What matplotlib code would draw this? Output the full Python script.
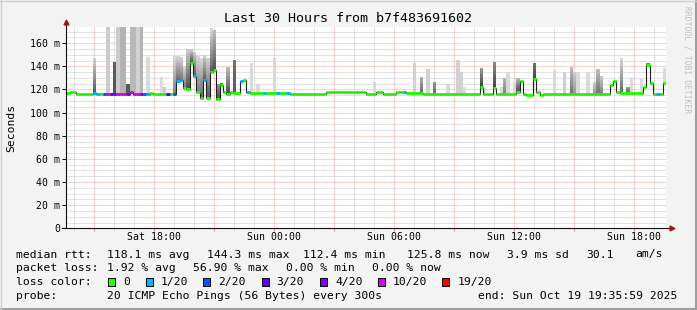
import numpy as np
import pandas as pd
import matplotlib
matplotlib.use('Agg')
import matplotlib.pyplot as plt
import matplotlib.dates as mdates
from matplotlib.ticker import MultipleLocator, FuncFormatter
from matplotlib.patches import Rectangle
from matplotlib.lines import Line2D

plt.rcParams['font.family'] = ['DejaVu Sans Mono']

W, H = 697, 310

# 10 minute steps, Sat 13:36 -> Sun 19:36
start = '2025-10-18 13:35:59'
n_steps = 180

# median rtt per step (ms)
median = [
    117.0, 117.5, 118.0, 116.5, 115.7, 115.7, 115.7, 116.0, 117.0, 115.7,
    115.7, 115.7, 115.7, 115.7, 115.7, 115.7, 115.7, 115.7, 116.5, 117.4,
    116.5, 115.7, 115.7, 116.0, 116.5, 117.0, 115.7, 115.7, 115.7, 115.7,
    115.7, 115.7, 116.0, 127.5, 128.5, 121.5, 120.0, 143.0, 132.0, 118.0,
    113.0, 128.0, 112.5, 135.0, 137.0, 111.5, 123.5, 118.0, 116.5, 118.0,
    117.0, 117.0, 127.2, 128.6, 118.0, 117.0, 117.0, 117.0, 117.0, 117.0,
    117.0, 117.0, 117.0, 117.0, 117.0, 117.0, 117.0, 115.7, 115.7, 115.7,
    115.7, 115.7, 115.7, 115.7, 116.0, 116.0, 116.0, 116.0, 117.4, 117.4,
    117.4, 117.4, 117.4, 117.4, 117.4, 117.4, 117.4, 117.4, 117.4, 117.4,
    115.7, 115.7, 115.7, 117.4, 117.4, 116.3, 116.3, 116.3, 116.3, 117.4,
    117.4, 117.4, 117.1, 117.1, 117.1, 117.1, 117.1, 116.5, 116.5, 116.5,
    116.5, 116.5, 116.5, 115.7, 115.7, 115.7, 115.7, 116.3, 116.3, 116.3,
    116.3, 116.3, 116.3, 116.3, 122.5, 116.3, 116.3, 116.3, 121.0, 116.5,
    116.5, 116.5, 116.5, 115.7, 115.7, 118.0, 127.2, 116.5, 115.0, 115.1,
    128.9, 118.0, 115.1, 116.5, 116.5, 116.5, 116.5, 116.5, 116.5, 116.5,
    116.5, 116.5, 116.5, 116.5, 116.5, 116.5, 116.5, 116.5, 116.5, 116.5,
    116.5, 116.5, 116.5, 123.5, 127.2, 117.5, 117.1, 117.1, 117.1, 117.1,
    117.1, 117.1, 117.1, 122.3, 141.0, 125.2, 116.5, 116.5, 116.5, 125.2,
]

# lost pings out of 20 per step
loss = [
    0, 0, 0, 0, 0, 0, 0, 0, 1, 1, 0, 2, 10, 3, 4, 10, 10, 10, 4, 10,
    10, 10, 4, 2, 1, 0, 0, 0, 0, 0, 3, 0, 2, 1, 1, 0, 0, 0, 1, 0,
    0, 1, 0, 0, 0, 0, 0, 0, 0, 0, 0, 0, 1, 0, 1, 0, 0, 0, 0, 1,
    0, 0, 0, 1, 0, 0, 1, 0, 0, 0, 0, 0, 0, 0, 0, 0, 0, 0, 0, 0,
    0, 0, 0, 0, 0, 0, 0, 0, 0, 0, 0, 0, 0, 0, 0, 0, 0, 0, 0, 0,
    0, 1, 0, 0, 0, 0, 0, 0, 0, 0, 0, 0, 0, 0, 0, 0, 0, 0, 0, 0,
    0, 0, 0, 0, 0, 0, 0, 0, 0, 0, 0, 0, 0, 0, 0, 0, 0, 0, 0, 0,
    0, 0, 0, 0, 0, 0, 0, 0, 0, 0, 0, 0, 0, 0, 0, 0, 0, 0, 0, 0,
    0, 0, 0, 0, 0, 0, 0, 0, 0, 0, 0, 0, 0, 0, 0, 0, 0, 1, 0, 0,
]

# smoke columns: step, highest ping, gray at top, gray next to median
smoke_step = [8, 12, 14, 15, 16, 17, 18, 19, 20, 21, 22, 24, 28, 29,
              32, 33, 34, 35, 36, 37, 38, 39, 40, 41, 42, 43, 44, 45, 46, 48, 50,
              55, 57, 62, 92, 104, 106, 108, 110, 114, 117, 118, 119, 124, 125,
              128, 130, 131, 132, 134, 135, 140, 146, 149, 151, 152, 153, 156,
              158, 159, 160, 166, 168, 169, 172, 174, 179]
smoke_top = [146.8, 180, 143.9, 180, 180, 180, 125.0, 180, 180, 180, 180, 148.0, 131.0, 122.3,
             148.8, 148.8, 148.0, 140.0, 154.6, 154.6, 152.0, 150.0, 147.0, 149.7, 146.8, 172.8,
             171.0, 125.0, 126.0, 139.6, 145.4,
             142.5, 125.0, 147.4, 126.6, 142.5, 131.0, 137.3, 126.6, 124.3, 145.4, 135.3, 122.3,
             138.7, 121.5, 143.9, 122.3, 129.5, 135.3, 126.6, 129.5, 142.5, 136.7, 135.3, 139.6,
             135.3, 135.3, 135.3, 126.6, 138.0, 132.0, 146.8, 122.3, 130.0, 129.5, 142.5, 138.7]
smoke_light = [0.82, 0.80, 0.38, 0.80, 0.70, 0.70, 0.35, 0.72, 0.72, 0.82, 0.70, 0.85, 0.86, 0.80,
               0.86, 0.85, 0.85, 0.85, 0.80, 0.80, 0.80, 0.85, 0.85, 0.82, 0.82, 0.85,
               0.75, 0.60, 0.50, 0.75, 0.45,
               0.85, 0.85, 0.85, 0.85, 0.82, 0.70, 0.82, 0.60, 0.85, 0.82, 0.82, 0.85,
               0.60, 0.85, 0.55, 0.85, 0.70, 0.85, 0.85, 0.70, 0.45, 0.85, 0.82, 0.75,
               0.80, 0.85, 0.85, 0.80, 0.75, 0.80, 0.85, 0.60, 0.85, 0.85, 0.50, 0.85]
smoke_dark = [0.35, 0.80, 0.32, 0.80, 0.70, 0.70, 0.35, 0.72, 0.72, 0.82, 0.70, 0.85, 0.86, 0.80,
              0.50, 0.40, 0.45, 0.50, 0.30, 0.30, 0.35, 0.50, 0.40, 0.35, 0.35, 0.35,
              0.30, 0.30, 0.30, 0.30, 0.35,
              0.85, 0.85, 0.85, 0.85, 0.82, 0.40, 0.82, 0.40, 0.85, 0.82, 0.82, 0.85,
              0.25, 0.85, 0.25, 0.85, 0.50, 0.85, 0.85, 0.30, 0.25, 0.85, 0.80, 0.45,
              0.60, 0.85, 0.85, 0.60, 0.45, 0.50, 0.40, 0.40, 0.85, 0.85, 0.30, 0.85]

loss_levels = [0, 1, 2, 3, 4, 10, 19]
loss_labels = ['0', '1/20', '2/20', '3/20', '4/20', '10/20', '19/20']
loss_colors = ['#26ff00', '#00b8ff', '#0059ff', '#5e00ff', '#7e00ff', '#dd00ff', '#ff0000']

edges = mdates.date2num(pd.date_range(start, periods=n_steps + 1, freq='10min'))
width = edges[1] - edges[0]
med = np.array(median)


def fx(x):
    return x / W


def fy(y):
    return 1 - y / H


fig = plt.figure(figsize=(W / 100, H / 100), dpi=100, facecolor='#f3f3f3')
ax = fig.add_axes([fx(66.3), fy(228.3), 600 / W, 201.3 / H])
ax.set_facecolor('white')

# smoke
n_seg = 12
for i, top, light, dark in zip(smoke_step, smoke_top, smoke_light, smoke_dark):
    lv = np.linspace(med[i], top, n_seg + 1)
    for k in range(n_seg):
        g = dark + (light - dark) * (k + 0.5) / n_seg
        ax.bar(edges[i], lv[k + 1] - lv[k], bottom=lv[k], width=width, align='edge',
               color=(g, g, g), linewidth=0, antialiased=False, zorder=2)

# median line, coloured by loss
ax.step(edges, np.append(med, med[-1]), where='post', color='#202020', lw=0.8, zorder=3)
idx = np.searchsorted(loss_levels, loss, side='right') - 1
cols = [loss_colors[j] for j in idx]
ax.hlines(med, edges[:-1], edges[1:], colors=cols, lw=2.2, zorder=4)

ax.set_xlim(edges[0], edges[-1])
ax.set_ylim(0, 174)

ax.yaxis.set_major_locator(MultipleLocator(20))
ax.yaxis.set_minor_locator(MultipleLocator(5))
ax.yaxis.set_major_formatter(FuncFormatter(lambda v, p: '0' if v == 0 else '%d m' % v))
ax.xaxis.set_major_locator(mdates.HourLocator(byhour=range(0, 24, 3)))
ax.xaxis.set_minor_locator(mdates.HourLocator())


def xfmt(v, p):
    d = mdates.num2date(v)
    return d.strftime('%a %H:%M') if d.hour % 6 == 0 else ''


ax.xaxis.set_major_formatter(FuncFormatter(xfmt))

ax.set_axisbelow(True)
ax.grid(which='major', color='#ff9e9e', lw=0.72, ls=(0, (1, 1)))
ax.grid(which='minor', color='#c6c6c6', lw=0.72, ls=(0, (1, 1)))

ax.tick_params(axis='y', which='major', length=3, width=0.7, color='black', pad=1.5, labelsize=7.1)
ax.tick_params(axis='y', which='minor', length=0)
ax.tick_params(axis='x', which='major', length=2, width=0.7, color='#e08080', pad=1, labelsize=7.1)
ax.tick_params(axis='x', which='minor', length=1.5, width=0.7, color='#c8c8c8')

for s in ax.spines.values():
    s.set_visible(False)

# axes with arrows
ax.add_line(Line2D([0, 0], [0, 1 + 4 / 201.3], transform=ax.transAxes, color='#101010',
                   lw=0.8, clip_on=False, zorder=5))
ax.add_line(Line2D([-4 / 600, 1 + 4 / 600], [0, 0], transform=ax.transAxes, color='#101010',
                   lw=0.8, clip_on=False, zorder=5))
ax.plot([0], [1 + 5 / 201.3], marker='^', ms=3.5, color='#a01818', transform=ax.transAxes,
        clip_on=False, zorder=6)
ax.plot([1 + 6 / 600], [0], marker='>', ms=3.5, color='#a01818', transform=ax.transAxes,
        clip_on=False, zorder=6)

# texts
fig.text(fx(348), fy(19), 'Last 30 Hours from b7f483691602', fontsize=9.6,
         ha='center', va='center')
fig.text(fx(11), fy(128), 'Seconds', fontsize=8.2, rotation=90, ha='center', va='center')
fig.text(fx(687.5), fy(60), 'RRDTOOL / TOBI OETIKER', fontsize=5.8, rotation=270,
         ha='center', va='center', color='#c0c0c0')

rows = [
    (254.5, [('median rtt:', 16), ('118.1 ms avg', 107.3), ('144.3 ms max', 207.3),
             ('112.4 ms min', 302.7), ('125.8 ms now', 407.3), ('3.9 ms sd', 506.7),
             ('30.1', 586), ('am/s', 635)]),
    (268.3, [('packet loss:', 16), ('1.92 % avg', 107.3), ('56.90 % max', 193.3),
             ('0.00 % min', 286), ('0.00 % now', 372.3)]),
    (282.2, [('loss color:', 16)]),
    (296.3, [('probe:', 16), ('20 ICMP Echo Pings (56 Bytes) every 300s', 107.3),
             ('end: Sun Oct 19 19:35:59 2025', 478.3)]),
]
for y, items in rows:
    for txt, x in items:
        fig.text(fx(x), fy(y), txt, fontsize=8.2, ha='left', va='center')

box_x = [108.3, 146, 203.3, 261.7, 320, 377.7, 442.3]
for bx, c, lab in zip(box_x, loss_colors, loss_labels):
    fig.add_artist(Rectangle((fx(bx), fy(286.3)), 7 / W, 8.3 / H, transform=fig.transFigure,
                             facecolor=c, edgecolor='black', lw=0.7))
    fig.text(fx(bx + 15), fy(282.2), lab, fontsize=8.2, ha='left', va='center')

# shaded frame
fig.add_artist(Line2D([0, 1], [fy(309), fy(309)], transform=fig.transFigure, color='#9e9e9e', lw=1.5))
fig.add_artist(Line2D([fx(696), fx(696)], [0, 1], transform=fig.transFigure, color='#9e9e9e', lw=1.5))
fig.add_artist(Line2D([0, 1], [fy(0.5), fy(0.5)], transform=fig.transFigure, color='#cfcfcf', lw=1))
fig.add_artist(Line2D([fx(0.5), fx(0.5)], [0, 1], transform=fig.transFigure, color='#cfcfcf', lw=1))

fig.savefig('out.png', dpi=100, facecolor=fig.get_facecolor())
